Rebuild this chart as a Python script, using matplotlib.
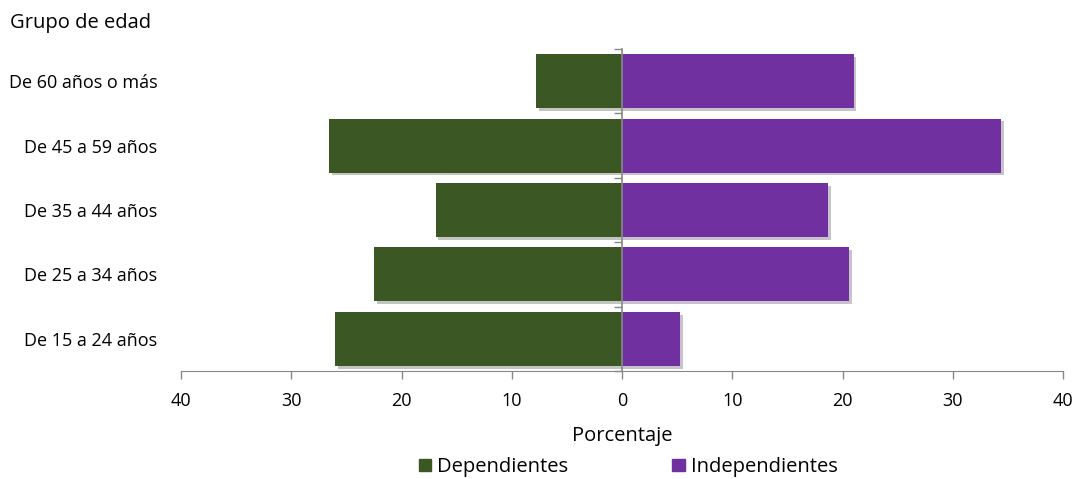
import numpy as np
import matplotlib.pyplot as plt
import matplotlib.patheffects as pe
from matplotlib.patches import Patch
from matplotlib.ticker import FuncFormatter

# datos (porcentajes)
grupos = ["De 15 a 24 años", "De 25 a 34 años", "De 35 a 44 años",
          "De 45 a 59 años", "De 60 años o más"]
dependientes = [26.0, 22.5, 16.9, 26.6, 7.8]
independientes = [5.3, 20.6, 18.7, 34.4, 21.0]

verde = "#3B5724"
morado = "#7030A0"
gris = "#888888"

plt.rcParams['font.family'] = ['Open Sans', 'DejaVu Sans']

fig = plt.figure(figsize=(10.78, 4.79), dpi=100)
ax = fig.add_axes([181/1078, 108/479, 882/1078, 322/479])

y = np.arange(len(grupos))
sombra = [pe.SimplePatchShadow(offset=(2, -2), alpha=0.25), pe.Normal()]

b1 = ax.barh(y, [-v for v in dependientes], height=0.84, color=verde, zorder=2)
b2 = ax.barh(y, independientes, height=0.84, color=morado, zorder=2)
for b in list(b1) + list(b2):
    b.set_path_effects(sombra)

ax.set_xlim(-40, 40)
ax.set_ylim(-0.5, len(grupos) - 0.5)
ax.set_xticks(np.arange(-40, 41, 10))
ax.xaxis.set_major_formatter(FuncFormatter(lambda v, p: "%d" % abs(v)))
ax.set_yticks(y)
ax.set_yticklabels(grupos)

for s in ['top', 'right', 'left']:
    ax.spines[s].set_visible(False)
ax.spines['bottom'].set_color(gris)
ax.tick_params(axis='x', colors=gris, length=6, width=1, labelsize=13,
               labelcolor='black', pad=9)
ax.tick_params(axis='y', length=0, labelsize=13, pad=17)

# eje central con marcas entre grupos
eje = ax.secondary_yaxis(0.5)
eje.set_zorder(5)
eje.set_yticks(np.arange(-0.5, len(grupos), 1.0))
eje.set_yticklabels([])
eje.yaxis.set_ticks_position('left')
for s in eje.spines.values():
    s.set_color(gris)
    s.set_linewidth(1.2)
eje.tick_params(colors=gris, length=6, width=1, direction='out')

ax.set_xlabel("Porcentaje", fontsize=14.5, va='center')
ax.xaxis.set_label_coords(0.5, (371 - 436) / 322)
fig.text(10/1078, 1 - 23/479, "Grupo de edad", fontsize=14.5, va='center')

handles = [Patch(color=verde, label="Dependientes"),
           Patch(color=morado, label="Independientes")]
fig.legend(handles=handles, loc='center',
           bbox_to_anchor=(628/1078, 1 - 467/479),
           ncol=2, frameon=False, fontsize=14.5, handlelength=0.6,
           handleheight=0.6, handletextpad=0.3, columnspacing=5.2,
           borderpad=0)

fig.savefig("out.png", dpi=100)
